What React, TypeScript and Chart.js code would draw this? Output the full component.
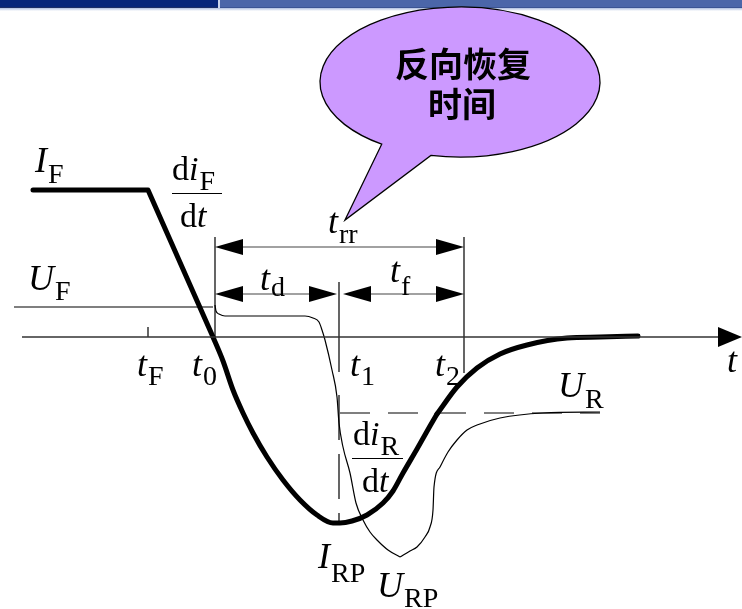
import React, { useEffect, useRef } from "react";
import { Chart, registerables } from "chart.js";

Chart.register(...registerables);

// ---------- data (x = time units, y = amplitude units; 0 = time axis) ----------
const T_F = 148;
const T_0 = 215;
const T_1 = 339;
const T_2 = 464;

const UF_LEVEL = 30;
const UR_LEVEL = -76;
const IRP_LEVEL = -186;
const TRR_LEVEL = 90;
const TDF_LEVEL = 43;

// forward current, then linear fall (di_F/dt)
const currentFwd: number[][] = [
  [33, 147], [148, 147], [213, 0],
];
// reverse current down to I_RP and up to the knee
const currentFall: number[][] = [
  [213, 0], [223, -24], [233, -53], [243, -76], [253, -96], [267, -120],
  [283, -143], [300, -163], [317, -178], [333, -186], [340, -186],
  [352, -184], [367, -178], [383, -166], [393, -154], [403, -136],
  [417, -112], [430, -89], [437, -77],
];
// recovery tail (di_R/dt)
const currentRise: number[][] = [
  [437, -77], [457, -50], [477, -31], [500, -17], [527, -8], [567, -1],
  [600, 0], [638, 1],
];
// diode voltage: U_F, fall to U_RP
const voltageA: number[][] = [
  [215, 32], [216, 26], [219, 23], [225, 21], [305, 21], [313, 19],
  [319, 15], [322, 7], [325, -3], [332, -33], [337, -60], [339, -86],
  [343, -110], [350, -136], [356, -166], [363, -183], [370, -195],
  [377, -203], [388, -213], [400, -220],
];
// voltage recovery to U_R
const voltageB: number[][] = [
  [400, -220], [410, -214], [417, -210], [425, -200], [430, -190],
  [433, -173], [434, -150], [440, -130], [448, -115], [457, -103],
  [467, -93], [477, -88], [500, -81], [543, -76], [600, -75],
];

const X_MIN = 0;
const X_MAX = 742;
const Y_MIN = -272;
const Y_MAX = 337;

type Part = [string, "i" | "r", number, number];
type Label = { x: number; y: number; parts: Part[] };

const LABELS: Label[] = [
  { x: 35, y: 165, parts: [["I", "i", 36, 0], ["F", "r", 28, 11]] },
  { x: 28, y: 47, parts: [["U", "i", 36, 0], ["F", "r", 28, 10]] },
  { x: 137, y: -39, parts: [["t", "i", 36, 0], ["F", "r", 28, 9]] },
  { x: 192, y: -39, parts: [["t", "i", 36, 0], ["0", "r", 28, 9]] },
  { x: 350, y: -39, parts: [["t", "i", 36, 0], ["1", "r", 28, 9]] },
  { x: 435, y: -39, parts: [["t", "i", 36, 0], ["2", "r", 28, 9]] },
  { x: 328, y: 104, parts: [["t", "i", 36, 0], ["rr", "r", 28, 10]] },
  { x: 260, y: 47, parts: [["t", "i", 36, 0], ["d", "r", 28, 6]] },
  { x: 390, y: 55, parts: [["t", "i", 36, 0], ["f", "r", 28, 13]] },
  { x: 558, y: -60, parts: [["U", "i", 36, 0], ["R", "r", 28, 11]] },
  { x: 318, y: -231, parts: [["I", "i", 36, 0], ["RP", "r", 28, 14]] },
  { x: 377, y: -260, parts: [["U", "i", 36, 0], ["RP", "r", 28, 10]] },
  { x: 727, y: -35, parts: [["t", "i", 36, 0]] },
  { x: 172, y: 157, parts: [["d", "r", 34, 0], ["i", "i", 34, 0], ["F", "r", 28, 10]] },
  { x: 180, y: 110, parts: [["d", "r", 34, 0], ["t", "i", 34, 0]] },
  { x: 353, y: -108, parts: [["d", "r", 34, 0], ["i", "i", 34, 0], ["R", "r", 28, 10]] },
  { x: 362, y: -155, parts: [["d", "r", 34, 0], ["t", "i", 34, 0]] },
];

const FRACTION_BARS: number[][] = [
  [172, 222, 144],
  [352, 403, -121],
];

// arrowheads: x, y, direction (+1 right, -1 left), length, half width
const ARROWS: number[][] = [
  [T_0, TRR_LEVEL, -1, 28, 8],
  [T_2, TRR_LEVEL, 1, 28, 8],
  [T_0, TDF_LEVEL, -1, 28, 8],
  [337, TDF_LEVEL, 1, 28, 8],
  [343, TDF_LEVEL, -1, 28, 8],
  [T_2, TDF_LEVEL, 1, 28, 8],
  [742, 0, 1, 24, 10],
];

const CALLOUT_TEXT = ["反向恢复", "时间"];

const pts = (a: number[][]) => a.map(([x, y]) => ({ x, y }));

const decorPlugin = {
  id: "decor",
  beforeDraw(chart: any) {
    const ctx = chart.ctx as CanvasRenderingContext2D;
    const w = chart.width;
    ctx.save();
    ctx.fillStyle = "#ffffff";
    ctx.fillRect(0, 0, w, chart.height);
    // banner
    ctx.fillStyle = "#06257a";
    ctx.fillRect(0, 0, 218, 7);
    ctx.fillStyle = "#c9d3ea";
    ctx.fillRect(218, 0, 2, 8);
    ctx.fillStyle = "#4b66a9";
    ctx.fillRect(220, 0, w - 220, 7);
    ctx.fillStyle = "#1b2d66";
    ctx.fillRect(0, 7, 218, 1);
    ctx.fillStyle = "#3b5494";
    ctx.fillRect(220, 7, w - 220, 1);
    const g = ctx.createLinearGradient(0, 8, 0, 11);
    g.addColorStop(0, "#aebee0");
    g.addColorStop(1, "#ffffff");
    ctx.fillStyle = g;
    ctx.fillRect(0, 8, w, 3);
    ctx.restore();
  },
  afterDatasetsDraw(chart: any) {
    const ctx = chart.ctx as CanvasRenderingContext2D;
    const xs = chart.scales.x;
    const ys = chart.scales.y;
    const px = (v: number) => xs.getPixelForValue(v);
    const py = (v: number) => ys.getPixelForValue(v);
    ctx.save();

    // arrowheads
    ctx.fillStyle = "#000";
    for (const [x, y, d, len, hw] of ARROWS) {
      const tx = px(x);
      const ty = py(y);
      ctx.beginPath();
      ctx.moveTo(tx, ty);
      ctx.lineTo(tx - d * len, ty - hw);
      ctx.lineTo(tx - d * len, ty + hw);
      ctx.closePath();
      ctx.fill();
    }

    // fraction bars
    ctx.strokeStyle = "#000";
    ctx.lineWidth = 1.2;
    for (const [x1, x2, y] of FRACTION_BARS) {
      ctx.beginPath();
      ctx.moveTo(px(x1), py(y) + 0.5);
      ctx.lineTo(px(x2), py(y) + 0.5);
      ctx.stroke();
    }

    // labels
    ctx.fillStyle = "#000";
    ctx.textBaseline = "alphabetic";
    ctx.textAlign = "left";
    for (const lab of LABELS) {
      let cx = px(lab.x);
      const by = py(lab.y);
      for (const [text, st, size, dy] of lab.parts) {
        ctx.font = `${st === "i" ? "italic " : ""}${size}px "Liberation Serif", "Times New Roman", serif`;
        ctx.fillText(text, cx, by + dy);
        cx += ctx.measureText(text).width + (st === "i" ? 1 : 0);
      }
    }

    // callout bubble
    const ecx = 460, ecy = 82, rx = 140, ry = 75;
    const a1 = (124 * Math.PI) / 180;
    const a2 = ((102 + 360) * Math.PI) / 180;
    ctx.beginPath();
    ctx.moveTo(345, 220);
    ctx.lineTo(ecx + rx * Math.cos(a1), ecy + ry * Math.sin(a1));
    ctx.ellipse(ecx, ecy, rx, ry, 0, a1, a2, false);
    ctx.closePath();
    ctx.fillStyle = "#cc99ff";
    ctx.fill();
    ctx.strokeStyle = "#000";
    ctx.lineWidth = 1.3;
    ctx.stroke();
    ctx.fillStyle = "#000";
    ctx.textAlign = "center";
    ctx.textBaseline = "middle";
    ctx.font = `bold 34px "Noto Sans CJK SC", sans-serif`;
    ctx.fillText(CALLOUT_TEXT[0], 463, 64);
    ctx.fillText(CALLOUT_TEXT[1], 462, 104);
    ctx.restore();
  },
};

export default function App() {
  const ref = useRef<HTMLCanvasElement | null>(null);
  useEffect(() => {
    if (!ref.current) return;
    const thin = (data: number[][], extra: any = {}) => ({
      data: pts(data),
      showLine: true,
      borderColor: "#000",
      borderWidth: 1.2,
      pointRadius: 0,
      tension: 0,
      ...extra,
    });
    const thick = (data: number[][], extra: any = {}) => ({
      data: pts(data),
      showLine: true,
      borderColor: "#000",
      borderWidth: 5,
      pointRadius: 0,
      borderCapStyle: "round",
      borderJoinStyle: "round",
      tension: 0,
      ...extra,
    });
    const chart = new Chart(ref.current, {
      type: "scatter",
      data: {
        datasets: [
          thin([[22, 0], [720, 0]], { borderColor: "#333", borderWidth: 1.4 }),
          thin([[14, UF_LEVEL], [213, UF_LEVEL]]),
          thin([[T_F, 10], [T_F, 0]]),
          thin([[T_0, 100], [T_0, 0]]),
          thin([[T_1, 55], [T_1, -35]]),
          thin([[T_1, -58], [T_1, IRP_LEVEL]], { borderDash: [45, 14] }),
          thin([[T_2, 100], [T_2, -36]]),
          thin([[340, UR_LEVEL], [600, UR_LEVEL]], { borderDash: [30, 18] }),
          thin([[T_0 + 20, TRR_LEVEL], [T_2 - 20, TRR_LEVEL]], { borderColor: "#444" }),
          thin([[T_0 + 20, TDF_LEVEL], [317, TDF_LEVEL]], { borderColor: "#444" }),
          thin([[363, TDF_LEVEL], [T_2 - 20, TDF_LEVEL]], { borderColor: "#444" }),
          thin(voltageA, { cubicInterpolationMode: "monotone" }),
          thin(voltageB, { cubicInterpolationMode: "monotone" }),
          thick(currentFwd),
          thick(currentFall, { cubicInterpolationMode: "monotone" }),
          thick(currentRise, { cubicInterpolationMode: "monotone" }),
        ],
      },
      options: {
        animation: false,
        responsive: true,
        maintainAspectRatio: false,
        layout: { padding: 0 },
        plugins: { legend: { display: false }, tooltip: { enabled: false } },
        events: [],
        scales: {
          x: { type: "linear", min: X_MIN, max: X_MAX, display: false },
          y: { type: "linear", min: Y_MIN, max: Y_MAX, display: false },
        },
      },
      plugins: [decorPlugin],
    } as any);
    return () => chart.destroy();
  }, []);
  return (
    <div style={{ position: "fixed", left: 0, top: 0, width: 742, height: 609, background: "#fff" }}>
      <canvas ref={ref} />
    </div>
  );
}
